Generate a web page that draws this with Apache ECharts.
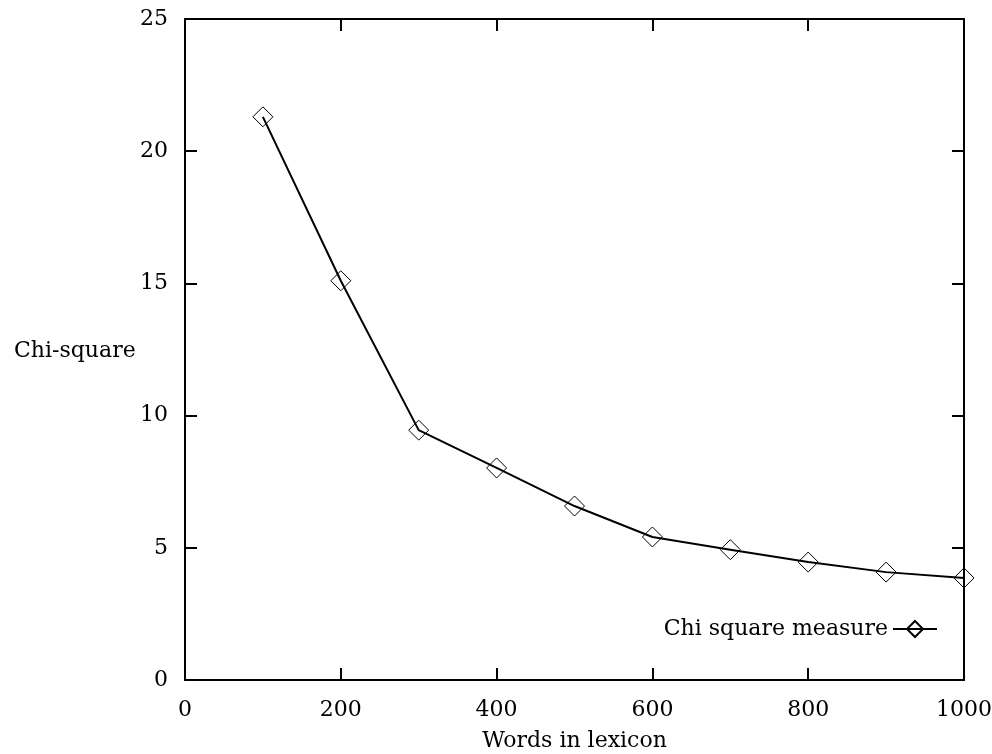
<!DOCTYPE html>
<html>
<head>
<meta charset="utf-8">
<script src="https://cdn.jsdelivr.net/npm/echarts@6/dist/echarts.min.js"></script>
<style>
  html, body { margin: 0; padding: 0; background: #fff; }
  #chart { width: 992px; height: 754px; }
</style>
</head>
<body>
<div id="chart"></div>
<script>
const words = [100, 200, 300, 400, 500, 600, 700, 800, 900, 1000];
const chiSquare = [21.3, 15.1, 9.45, 8.02, 6.58, 5.41, 4.93, 4.46, 4.08, 3.86];

const chart = echarts.init(document.getElementById('chart'));
const font = 'DejaVu Serif';
const fs = 22;

// mirrored axis (top / right): line + inward ticks, no labels
const mirrorAxis = {
  type: 'value',
  axisLine: { show: true, onZero: false, lineStyle: { color: '#000', width: 2 } },
  axisTick: { show: true, inside: true, length: 12, lineStyle: { color: '#000', width: 2 } },
  axisLabel: { show: false },
  splitLine: { show: false }
};

chart.setOption({
  animation: false,
  textStyle: { fontFamily: font },
  grid: { left: 185, right: 28, top: 19, bottom: 74, outerBoundsMode: 'none', containLabel: false },
  title: {
    text: 'Chi-square',
    left: 9,
    top: 335,
    textStyle: { fontFamily: font, fontSize: fs, fontWeight: 'normal', color: '#000' }
  },
  legend: {
    right: 49,
    top: 613,
    align: 'right',
    itemWidth: 44,
    itemHeight: 20,
    itemGap: 6,
    textStyle: { fontFamily: font, fontSize: fs, color: '#000' },
    data: ['Chi square measure']
  },
  xAxis: [
    {
      type: 'value',
      min: 0,
      max: 1000,
      interval: 200,
      name: 'Words in lexicon',
      nameLocation: 'middle',
      nameGap: 50,
      nameTextStyle: { fontFamily: font, fontSize: fs, color: '#000' },
      axisLine: { onZero: false, lineStyle: { color: '#000', width: 2 } },
      axisTick: { inside: true, length: 12, lineStyle: { color: '#000', width: 2 } },
      axisLabel: { color: '#000', fontSize: fs, fontFamily: font, margin: 19, formatter: v => String(v) },
      splitLine: { show: false }
    },
    Object.assign({}, mirrorAxis, { position: 'top', min: 0, max: 1000, interval: 200 })
  ],
  yAxis: [
    {
      type: 'value',
      min: 0,
      max: 25,
      interval: 5,
      axisLine: { show: true, onZero: false, lineStyle: { color: '#000', width: 2 } },
      axisTick: { show: true, inside: true, length: 12, lineStyle: { color: '#000', width: 2 } },
      axisLabel: { color: '#000', fontSize: fs, fontFamily: font, margin: 17 },
      splitLine: { show: false }
    },
    Object.assign({}, mirrorAxis, { position: 'right', min: 0, max: 25, interval: 5 })
  ],
  series: [{
    name: 'Chi square measure',
    type: 'line',
    data: words.map((w, i) => [w, chiSquare[i]]),
    symbol: 'diamond',
    symbolSize: 20,
    showAllSymbol: true,
    lineStyle: { color: '#000', width: 2 },
    itemStyle: { color: 'rgba(0,0,0,0)', borderColor: '#000', borderWidth: 1 }
  }]
});
</script>
</body>
</html>
